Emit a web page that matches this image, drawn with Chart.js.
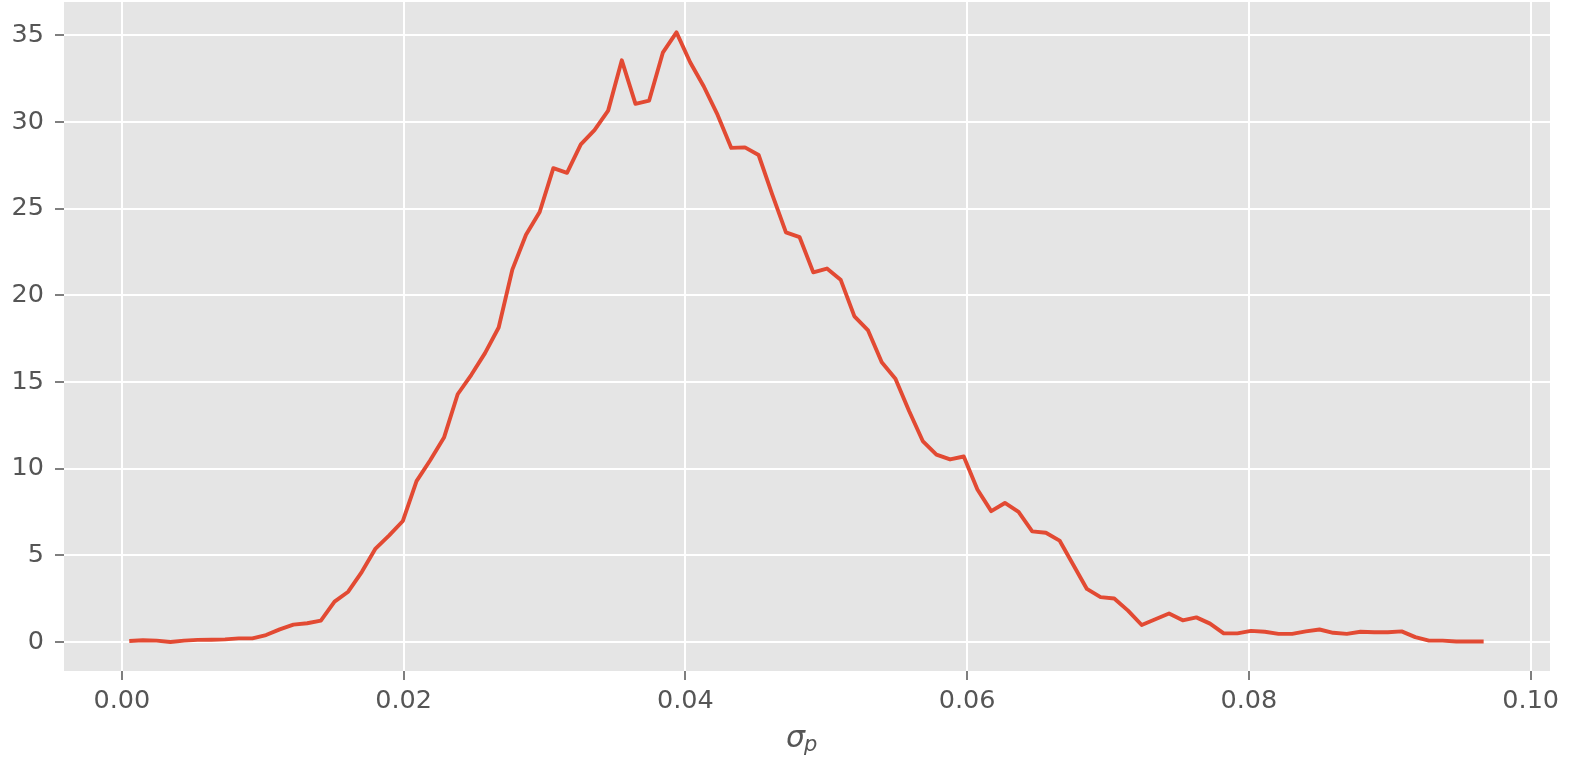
<!DOCTYPE html>
<html>
<head>
<meta charset="utf-8">
<script src="https://cdn.jsdelivr.net/npm/chart.js@4.4.0/dist/chart.umd.min.js"></script>
<style>
  html, body { margin: 0; padding: 0; background: #ffffff; }
  #wrap { width: 1578px; height: 759px; }
</style>
</head>
<body>
<div id="wrap"><canvas id="sigmaChart" width="1578" height="759"></canvas></div>
<script>
// sigma_p bin centres (x) and density values (y)
const sigmaValues = [
  0.00053, 0.00150, 0.00247, 0.00345, 0.00442, 0.00539, 0.00636, 0.00733, 0.00830, 0.00927,
  0.01024, 0.01121, 0.01218, 0.01316, 0.01413, 0.01510, 0.01607, 0.01704, 0.01801, 0.01898,
  0.01995, 0.02092, 0.02189, 0.02287, 0.02384, 0.02481, 0.02578, 0.02675, 0.02772, 0.02869,
  0.02966, 0.03063, 0.03160, 0.03258, 0.03355, 0.03452, 0.03549, 0.03646, 0.03743, 0.03840,
  0.03937, 0.04034, 0.04131, 0.04229, 0.04326, 0.04423, 0.04520, 0.04617, 0.04714, 0.04811,
  0.04908, 0.05005, 0.05102, 0.05200, 0.05297, 0.05394, 0.05491, 0.05588, 0.05685, 0.05782,
  0.05879, 0.05976, 0.06073, 0.06171, 0.06268, 0.06365, 0.06462, 0.06559, 0.06656, 0.06753,
  0.06850, 0.06947, 0.07044, 0.07142, 0.07239, 0.07336, 0.07433, 0.07530, 0.07627, 0.07724,
  0.07821, 0.07918, 0.08015, 0.08113, 0.08210, 0.08307, 0.08404, 0.08501, 0.08598, 0.08695,
  0.08792, 0.08889, 0.08986, 0.09084, 0.09181, 0.09278, 0.09375, 0.09472, 0.09569, 0.09666
];

const densityValues = [
  0.06, 0.10, 0.08, 0.00, 0.08, 0.12, 0.13, 0.15, 0.21, 0.21,
  0.40, 0.73, 1.00, 1.08, 1.23, 2.33, 2.90, 4.05, 5.39, 6.15,
  6.98, 9.28, 10.48, 11.79, 14.29, 15.41, 16.66, 18.14, 21.48, 23.49,
  24.80, 27.33, 27.06, 28.70, 29.53, 30.65, 33.55, 31.04, 31.23, 33.99,
  35.16, 33.44, 32.04, 30.40, 28.50, 28.53, 28.09, 25.80, 23.63, 23.35,
  21.32, 21.54, 20.90, 18.78, 17.97, 16.13, 15.19, 13.32, 11.59, 10.81,
  10.53, 10.70, 8.80, 7.55, 8.02, 7.50, 6.38, 6.30, 5.85, 4.46,
  3.06, 2.59, 2.51, 1.81, 0.98, 1.31, 1.64, 1.25, 1.42, 1.06,
  0.50, 0.50, 0.64, 0.59, 0.47, 0.47, 0.61, 0.72, 0.53, 0.47,
  0.59, 0.56, 0.56, 0.61, 0.28, 0.08, 0.08, 0.03, 0.03, 0.03
];

// tick positions
const xTickValues = [0.00, 0.02, 0.04, 0.06, 0.08, 0.10];
const yTickValues = [0, 5, 10, 15, 20, 25, 30, 35];

const points = sigmaValues.map((x, i) => ({ x: x, y: densityValues[i] }));

// grey panel behind the grid (ggplot look) + the sigma_p axis label
const ggplotPanel = {
  id: "ggplotPanel",
  beforeDraw(chart) {
    const { ctx, chartArea } = chart;
    ctx.save();
    ctx.fillStyle = "#E5E5E5";
    ctx.fillRect(chartArea.left, chartArea.top, chartArea.right - chartArea.left, chartArea.bottom - chartArea.top);
    ctx.restore();
  },
  afterDraw(chart) {
    const ctx = chart.ctx;
    ctx.save();
    ctx.fillStyle = "#555555";
    ctx.textBaseline = "alphabetic";
    ctx.textAlign = "left";
    ctx.font = "italic 30px 'DejaVu Sans'";
    ctx.fillText("σ", 786, 747);
    ctx.font = "italic 21px 'DejaVu Sans'";
    ctx.fillText("p", 804, 751);
    ctx.restore();
  },
};

const ctx = document.getElementById("sigmaChart").getContext("2d");
new Chart(ctx, {
  type: "line",
  data: {
    datasets: [
      {
        data: points,
        borderColor: "#E24A33",
        borderWidth: 3.9,
        borderJoinStyle: "round",
        pointRadius: 0,
        tension: 0,
        fill: false,
      },
    ],
  },
  options: {
    responsive: false,
    animation: false,
    layout: { padding: { top: 2, right: 28, left: 0, bottom: 0 } },
    plugins: {
      legend: { display: false },
      tooltip: { enabled: false },
    },
    scales: {
      x: {
        type: "linear",
        min: -0.004102,
        max: 0.10137,
        afterFit: (scale) => {
          scale.height = 88;
          scale.paddingLeft = 0;
          scale.paddingRight = 0;
        },
        afterBuildTicks: (scale) => { scale.ticks = xTickValues.map((v) => ({ value: v })); },
        border: { display: false },
        grid: {
          color: "#FFFFFF",
          lineWidth: 2,
          tickColor: "#555555",
          tickLength: 9,
          tickWidth: 1.5,
        },
        ticks: {
          color: "#555555",
          padding: 6,
          font: { family: "'DejaVu Sans'", size: 25.5 },
          callback: (v) => v.toFixed(2),
        },
      },
      y: {
        min: -1.673,
        max: 36.915,
        afterFit: (scale) => {
          scale.width = 64;
          scale.paddingTop = 0;
          scale.paddingBottom = 0;
        },
        afterBuildTicks: (scale) => { scale.ticks = yTickValues.map((v) => ({ value: v })); },
        border: { display: false },
        grid: {
          color: "#FFFFFF",
          lineWidth: 2,
          tickColor: "#555555",
          tickLength: 9,
          tickWidth: 1.5,
        },
        ticks: {
          color: "#555555",
          padding: 11,
          font: { family: "'DejaVu Sans'", size: 25.5 },
          callback: (v) => String(v),
        },
      },
    },
  },
  plugins: [ggplotPanel],
});
</script>
</body>
</html>
